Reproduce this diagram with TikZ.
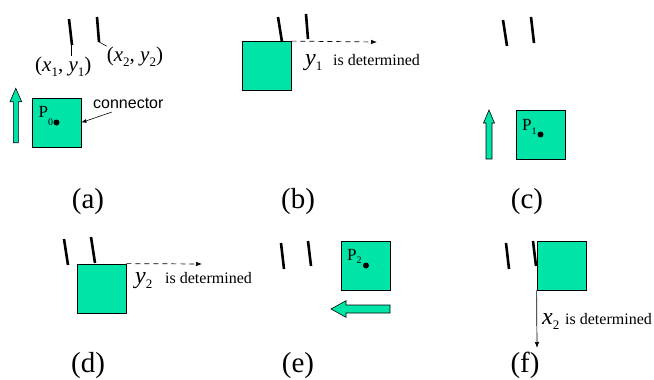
\documentclass[tikz,border=0pt]{standalone}
\usepackage{fontspec}
\setmainfont{Liberation Serif}
\newfontfamily\labelsans{Liberation Sans}
\usetikzlibrary{arrows.meta,positioning,calc}
\definecolor{seagreen}{RGB}{0,228,168}
\newcommand\varsub[2]{\textit{#1}\raisebox{-5pt}{\fontsize{13}{13}\selectfont #2}}
\newcommand\pointlbl[2]{P\raisebox{-#2pt}{\fontsize{10}{10}\selectfont #1}}

\begin{document}
\begin{tikzpicture}[x=1pt, y=-1pt,
  sq/.style={draw=black, line width=0.8pt, fill=seagreen, minimum size=49pt, inner sep=0pt},
  stick/.style={line width=2.6pt},
  leader/.style={line width=0.6pt},
  fat/.style={draw=black, line width=0.6pt, fill=seagreen},
  detline/.style={-{Latex[length=6pt,width=4.5pt]}, line width=0.7pt},
  panel/.style={font=\fontsize{29}{29}\selectfont, inner sep=0pt, anchor=base},
  plabel/.style={font=\fontsize{17}{17}\selectfont, inner sep=0pt, anchor=base west},
  coord/.style={font=\fontsize{21}{21}\selectfont, inner sep=0pt, anchor=base west},
  var/.style={font=\fontsize{24}{24}\selectfont, inner sep=0pt, anchor=base west},
  note/.style={font=\fontsize{16}{16}\selectfont, inner sep=0pt, anchor=base west}]
  \useasboundingbox (0,0) rectangle (654,380);

  % squares
  \node[sq] (sqA) at (56.5,122.5) {};
  \node[sq] (sqB) at (266.5,66) {};
  \node[sq] (sqC) at (540.5,134.5) {};
  \node[sq] (sqD) at (101.5,288.5) {};
  \node[sq] (sqE) at (366,265.5) {};
  \node[sq] (sqF) at (561.5,265.5) {};

  % sticks
  \foreach \xa/\ya/\xb/\yb in {69/19/72/45, 97/17/99/42, 278/17/282/42, 306/14/308/39,
      503/20/507/46, 531/17/534/43, 64/239/68/265, 91/237/95/263,
      281/243/284/269, 308/241/311/266, 506/243/509/269, 533/241/536/266}
    \draw[stick] (\xa,\ya) -- (\xb,\yb);

  % (a)
  \coordinate (tipA1) at (71.5,45);
  \coordinate (tipA2) at (98.7,41.7);
  \node[coord] (xyA) at (35,71) {(\varsub{x}{1}, \varsub{y}{1})};
  \node[coord] (xyB) at (106.7,61) {(\varsub{x}{2}, \varsub{y}{2})};
  \draw[leader] (tipA1) -- (xyA.north -| tipA1);
  \draw[leader] (tipA2) -- (xyB.north west);
  \filldraw[fat] (13.3,142.7) -- (18.3,142.7) -- (18.3,101.7) -- (21.7,101.7)
    -- (15.8,88.3) -- (10,101.7) -- (13.3,101.7) -- cycle;
  \node[plabel] (pA) at (38.5,117) {\pointlbl{0}{8}};
  \fill (sqA.center) circle (3);
  \node[font=\labelsans\fontsize{16}{16}\selectfont, inner sep=0pt, anchor=base west] (conn) at (93,108) {connector};
  \coordinate (connTail) at (112,112);
  \draw[-{Latex[length=5pt,width=4pt]}, line width=0.6pt] (connTail) -- (sqA.east);

  % (b)
  \coordinate (endB) at (377,42);
  \draw[detline, dash pattern=on 5pt off 4pt] (sqB.north east) -- (endB);
  \node[var] (varB) at (305,65) {\varsub{y}{1}};
  \node[note] (noteB) at (333,65) {is determined};

  % (c)
  \filldraw[fat] (486,159) -- (492,159) -- (492,123) -- (494.5,123)
    -- (489,110) -- (483.5,123) -- (486,123) -- cycle;
  \node[plabel] (pC) at (522,130) {\pointlbl{1}{4}};
  \fill (sqC.center) circle (3);

  % (d)
  \coordinate (endD) at (202,264);
  \draw[detline, dash pattern=on 5pt off 4pt] (sqD.north east) -- (endD);
  \node[var] (varD) at (135,283) {\varsub{y}{2}};
  \node[note] (noteD) at (165,283) {is determined};

  % (e)
  \filldraw[fat] (390,305) -- (390,313) -- (346,313) -- (346,317.3)
    -- (331,309) -- (346,300.7) -- (346,305) -- cycle;
  \node[plabel] (pE) at (347,260) {\pointlbl{2}{3}};
  \fill (sqE.center) circle (3);

  % (f)
  \coordinate (endF) at (537,348);
  \draw[detline] (sqF.south west) -- (endF);
  \node[var] (varF) at (542,324) {\varsub{x}{2}};
  \node[note] (noteF) at (565,324) {is determined};

  % panel labels
  \foreach \name/\x/\y in {a/88/208, b/298/208, c/527/208, d/88/372.5, e/298/372.5, f/525/372.5}
    \node[panel] (lbl\name) at (\x,\y) {(\name)};
\end{tikzpicture}
\end{document}
